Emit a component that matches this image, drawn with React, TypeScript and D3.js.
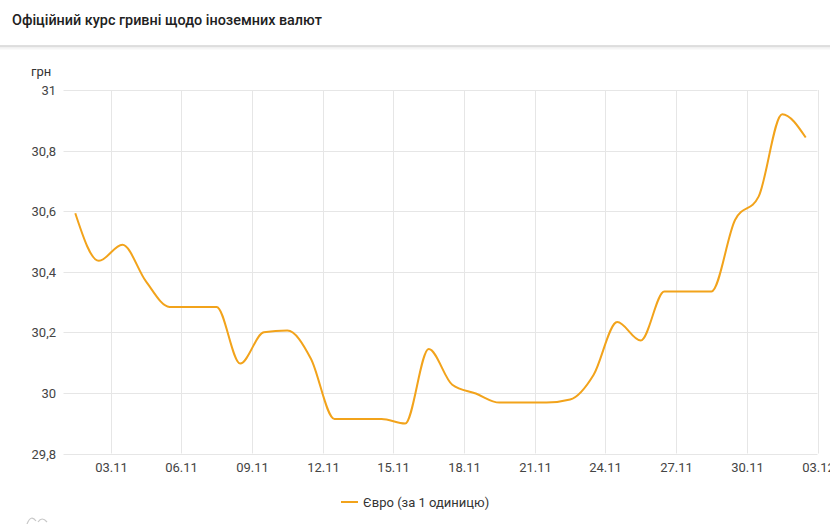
import React, { useEffect, useRef } from "react";
import * as d3 from "d3";

const dates: string[] = [
  "2019-11-01", "2019-11-02", "2019-11-03", "2019-11-04", "2019-11-05", "2019-11-06",
  "2019-11-07", "2019-11-08", "2019-11-09", "2019-11-10", "2019-11-11", "2019-11-12",
  "2019-11-13", "2019-11-14", "2019-11-15", "2019-11-16", "2019-11-17", "2019-11-18",
  "2019-11-19", "2019-11-20", "2019-11-21", "2019-11-22", "2019-11-23", "2019-11-24",
  "2019-11-25", "2019-11-26", "2019-11-27", "2019-11-28", "2019-11-29", "2019-11-30",
  "2019-12-01", "2019-12-02",
];
const euro: number[] = [
  30.593, 30.436, 30.489, 30.368, 30.284, 30.284, 30.284, 30.097, 30.2, 30.206,
  30.113, 29.914, 29.914, 29.914, 29.899, 30.145, 30.027, 29.998, 29.968, 29.968,
  29.968, 29.978, 30.06, 30.234, 30.173, 30.335, 30.335, 30.335, 30.571, 30.648,
  30.92, 30.843,
];
const tickDates: string[] = [
  "2019-11-03", "2019-11-06", "2019-11-09", "2019-11-12", "2019-11-15", "2019-11-18",
  "2019-11-21", "2019-11-24", "2019-11-27", "2019-11-30", "2019-12-03",
];
const yTicks: number[] = [29.8, 30, 30.2, 30.4, 30.6, 30.8, 31];
const title = "Офіційний курс гривні щодо іноземних валют";
const unitLabel = "грн";
const seriesName = "Євро (за 1 одиницю)";

const W = 830;
const H = 524;
const FONT = "Roboto, 'Noto Sans', sans-serif";

export default function App() {
  const ref = useRef<SVGSVGElement>(null);

  useEffect(() => {
    document.body.style.margin = "0";
    const svg = d3.select(ref.current);
    svg.selectAll("*").remove();

    const parse = d3.utcParse("%Y-%m-%d");
    const fmt = d3.utcFormat("%d.%m");
    const left = 63.5, right = 817.5, top = 90, bottom = 453.5;

    const x = d3.scaleUtc()
      .domain([parse("2019-11-01")!, parse("2019-12-03")!])
      .range([left, right]);
    const y = d3.scaleLinear().domain([29.8, 31]).range([bottom, top]);

    // title + separator
    svg.append("text")
      .attr("x", 12).attr("y", 25)
      .attr("font-family", FONT).attr("font-size", 14.4).attr("font-weight", 500)
      .attr("fill", "#212121").text(title);

    const defs = svg.append("defs");
    const grad = defs.append("linearGradient").attr("id", "shadow")
      .attr("x1", 0).attr("x2", 0).attr("y1", 0).attr("y2", 1);
    grad.append("stop").attr("offset", "0%").attr("stop-color", "#000").attr("stop-opacity", 0.08);
    grad.append("stop").attr("offset", "100%").attr("stop-color", "#000").attr("stop-opacity", 0);
    svg.append("rect").attr("x", 0).attr("y", 46.5).attr("width", W).attr("height", 4)
      .attr("fill", "url(#shadow)");
    svg.append("line").attr("x1", 0).attr("x2", W).attr("y1", 46).attr("y2", 46)
      .attr("stroke", "#d4d4d4").attr("stroke-width", 1.5);

    // horizontal grid + y labels
    const g = svg.append("g");
    yTicks.forEach((t) => {
      const yy = Math.round(y(t)) + 0.5;
      g.append("line").attr("x1", left).attr("x2", right).attr("y1", yy).attr("y2", yy)
        .attr("stroke", "#e6e6e6").attr("stroke-width", 1);
      g.append("text").attr("x", 56).attr("y", yy + 4.5)
        .attr("text-anchor", "end").attr("font-family", FONT).attr("font-size", 13)
        .attr("fill", "#444").text(d3.format("")(t).replace(".", ","));
    });

    // vertical grid + x labels
    tickDates.forEach((s) => {
      const d = parse(s)!;
      const xx = Math.round(x(d)) + 0.5;
      g.append("line").attr("x1", xx).attr("x2", xx).attr("y1", top).attr("y2", bottom)
        .attr("stroke", "#e6e6e6").attr("stroke-width", 1);
      g.append("text").attr("x", xx).attr("y", 472)
        .attr("text-anchor", "middle").attr("font-family", FONT).attr("font-size", 13)
        .attr("fill", "#444").text(fmt(d));
    });

    svg.append("text").attr("x", 31).attr("y", 76)
      .attr("font-family", FONT).attr("font-size", 13).attr("fill", "#333").text(unitLabel);

    // line
    const pts = dates.map((s, i) => ({ d: d3.utcHour.offset(parse(s)!, 12), v: euro[i] }));
    const line = d3.line<{ d: Date; v: number }>()
      .x((p) => x(p.d)).y((p) => y(p.v)).curve(d3.curveMonotoneX);
    svg.append("path").attr("d", line(pts)!).attr("fill", "none")
      .attr("stroke", "#f2a31b").attr("stroke-width", 2).attr("stroke-linejoin", "round");

    // legend
    svg.append("line").attr("x1", 341).attr("x2", 358).attr("y1", 502).attr("y2", 502)
      .attr("stroke", "#f2a31b").attr("stroke-width", 2);
    svg.append("text").attr("x", 363).attr("y", 506.5)
      .attr("font-family", FONT).attr("font-size", 13).attr("fill", "#333").text(seriesName);

    // faint logo fragment bottom-left
    svg.append("path").attr("d", "M27,524 Q31,514 36,521 M38,522 Q42,516 47,522")
      .attr("fill", "none").attr("stroke", "#c8c8c8").attr("stroke-width", 1.2);
  }, []);

  return (
    <svg ref={ref} width={W} height={H}
      style={{ position: "absolute", left: 0, top: 0, display: "block", background: "#fff" }} />
  );
}
